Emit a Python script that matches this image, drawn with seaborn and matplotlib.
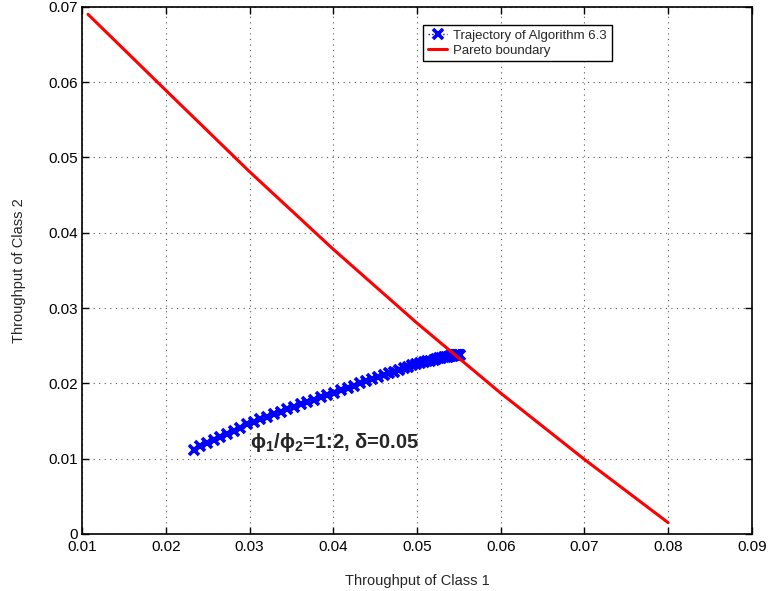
import matplotlib
matplotlib.use("Agg")
import matplotlib.pyplot as plt
import seaborn as sns
import pandas as pd

# Pareto boundary of the two-class throughput region
pareto_x = [0.0107, 0.020, 0.030, 0.040, 0.050, 0.060, 0.070, 0.080]
pareto_y = [0.0690, 0.0589, 0.0481, 0.0378, 0.0280, 0.0187, 0.0099, 0.0015]

# Iterates of Algorithm 6.3 (phi1/phi2 = 1:2, delta = 0.05)
traj_x = [0.0233, 0.0241, 0.0249, 0.0257, 0.0265, 0.0273, 0.0281, 0.0289, 0.0297,
          0.0305, 0.0313, 0.0321, 0.0329, 0.0337, 0.0345, 0.0353, 0.0361, 0.0369,
          0.0377, 0.0385, 0.0393, 0.0401, 0.0409, 0.0417, 0.0425, 0.0432, 0.0439,
          0.0446, 0.0453, 0.0460, 0.0466, 0.0472, 0.0478, 0.0484, 0.0489, 0.0494,
          0.0499, 0.0504, 0.0508, 0.0512, 0.0516, 0.0520, 0.0523, 0.0526, 0.0529,
          0.0532, 0.0535, 0.0537, 0.0539, 0.0541, 0.0543, 0.0545, 0.0547, 0.0548,
          0.0549, 0.0550, 0.0551]
traj_y = [0.01120, 0.01162, 0.01203, 0.01245, 0.01287, 0.01328, 0.01370, 0.01412,
          0.01454, 0.01491, 0.01525, 0.01558, 0.01592, 0.01625, 0.01659, 0.01691,
          0.01722, 0.01752, 0.01783, 0.01813, 0.01843, 0.01874, 0.01906, 0.01938,
          0.01970, 0.01998, 0.02026, 0.02054, 0.02081, 0.02108, 0.02131, 0.02154,
          0.02176, 0.02199, 0.02218, 0.02237, 0.02256, 0.02271, 0.02282, 0.02292,
          0.02303, 0.02314, 0.02322, 0.02330, 0.02338, 0.02344, 0.02350, 0.02354,
          0.02358, 0.02362, 0.02366, 0.02370, 0.02374, 0.02376, 0.02378, 0.02380,
          0.02382]

x_ticks = [0.01, 0.02, 0.03, 0.04, 0.05, 0.06, 0.07, 0.08, 0.09]
y_ticks = [0, 0.01, 0.02, 0.03, 0.04, 0.05, 0.06, 0.07]
x_tick_labels = ["0.01", "0.02", "0.03", "0.04", "0.05", "0.06", "0.07", "0.08", "0.09"]
y_tick_labels = ["0", "0.01", "0.02", "0.03", "0.04", "0.05", "0.06", "0.07"]

sns.set_style("white")
plt.rcParams["font.family"] = ["Liberation Sans", "DejaVu Sans"]
plt.rcParams["mathtext.fontset"] = "custom"
plt.rcParams["mathtext.rm"] = "Liberation Sans:bold"
plt.rcParams["mathtext.it"] = "Liberation Sans:bold"
plt.rcParams["mathtext.bf"] = "Liberation Sans:bold"

traj = pd.DataFrame({"x": traj_x, "y": traj_y})
pareto = pd.DataFrame({"x": pareto_x, "y": pareto_y})

fig = plt.figure(figsize=(7.68, 5.91), dpi=100)
ax = fig.add_axes([0.107, 0.0965, 0.872, 0.892])

sns.lineplot(data=traj, x="x", y="y", sort=False, estimator=None, ax=ax,
             color="#0000ff", linestyle=":", linewidth=1.0, marker="x",
             markersize=7, markeredgewidth=2.6, markeredgecolor="#0000ff",
             label="Trajectory of Algorithm 6.3", zorder=3)
sns.lineplot(data=pareto, x="x", y="y", sort=False, estimator=None, ax=ax,
             color="#ff0000", linewidth=2.2, label="Pareto boundary", zorder=4)

ax.set_xlim(0.01, 0.09)
ax.set_ylim(0, 0.07)
ax.set_xticks(x_ticks)
ax.set_xticklabels(x_tick_labels)
ax.set_yticks(y_ticks)
ax.set_yticklabels(y_tick_labels)
ax.tick_params(direction="in", length=5, width=1, labelsize=11, colors="black",
               top=True, right=True, bottom=True, left=True)
ax.tick_params(axis="x", pad=4)
ax.tick_params(axis="y", pad=3)
for s in ax.spines.values():
    s.set_visible(True)
    s.set_color("black")
    s.set_linewidth(1.2)

ax.grid(True, linestyle=(0, (1, 4)), color="#555555", linewidth=0.8)
ax.set_axisbelow(True)

ax.set_xlabel("Throughput of Class 1", fontsize=10.5, labelpad=15)
ax.set_ylabel("Throughput of Class 2", fontsize=10.5, labelpad=16)

ax.text(0.0301, 0.0122, r"$\phi_1/\phi_2$=1:2, $\delta$=0.05", fontsize=14.5,
        fontweight="bold", ha="left", va="center", zorder=5)

leg = ax.legend(loc="upper left", bbox_to_anchor=(0.509, 0.966), fontsize=9.5,
                frameon=True, fancybox=False, edgecolor="black", framealpha=1,
                borderpad=0.35, labelspacing=0.22, handlelength=1.5,
                handletextpad=0.45, borderaxespad=0)
leg.get_frame().set_linewidth(1.0)

fig.savefig("out.png", dpi=100)
